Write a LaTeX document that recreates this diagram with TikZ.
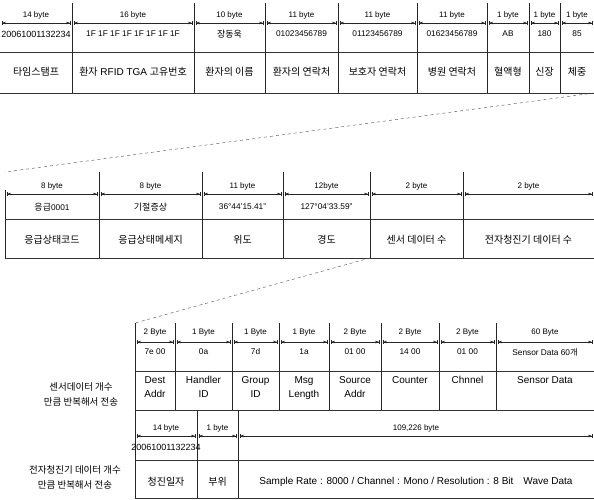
\documentclass[tikz,border=0pt]{standalone}
\usepackage{fontspec}
\setmainfont{Liberation Sans}
\newfontfamily\kr{Noto Sans CJK KR}
\newcommand\K[1]{{\kr #1}}
\newcommand\KD[1]{{\kr\fontsize{9}{10}\selectfont #1}}
\usetikzlibrary{arrows.meta}
\tikzset{
  hdr/.style={font=\fontsize{8}{9}\selectfont, inner sep=0pt},
  dat/.style={font=\fontsize{8.3}{9}\selectfont, inner sep=0pt},
  lab/.style={font=\fontsize{10}{14}\selectfont, inner sep=0pt, align=center},
  side/.style={font=\fontsize{9.5}{15}\selectfont, inner sep=0pt, align=center},
  vline/.style={line width=0.6pt, black!85},
  hline/.style={line width=0.5pt, black!80},
  barr/.style={line width=0.45pt, black!85,
    {Bar[width=4pt]Latex[length=3.5pt,width=3pt]}-{Latex[length=3.5pt,width=3pt]Bar[width=4pt]}},
  zoomline/.style={dashed, line width=0.4pt, black!70}
}
\newcommand\labanc{center}
\newcommand\bcol[6]{%
  \node[hdr] (#1h) at ({(#2+#3)/2},\yH) {#4};
  \node[dat] (#1d) at ({(#2+#3)/2},\yD) {#5};
  \node[lab, anchor=\labanc] (#1l) at ({(#2+#3)/2},\yL) {#6};
  \coordinate (#1a) at (#2+1.5,\yA);
  \coordinate (#1b) at (#3-1.5,\yA);
  \draw[barr] (#1a) -- (#1b);
}
\begin{document}
\begin{tikzpicture}[x=1pt,y=-1pt]
\useasboundingbox (0,0) rectangle (594,499);
\fill[white] (0,0) rectangle (594,499);

% ---------- Section 1 ----------
\def\yH{15}\def\yA{23}\def\yD{34}\def\yL{72}
\foreach \x in {72,194,265,338,417,487,529,560} \draw[vline] (\x,3) -- (\x,93);
\draw[hline] (0,52) -- (594,52);
\draw[hline] (0,93) -- (594,93);
\bcol{a1}{0}{72}{14 byte}{\fontsize{9}{10}\selectfont 20061001132234}{\K{타임스탬프}}
\bcol{a2}{72}{194}{16 byte}{1F 1F 1F 1F 1F 1F 1F 1F}{\K{환자} RFID TGA \K{고유번호}}
\bcol{a3}{194}{265}{10 byte}{\KD{장동욱}}{\K{환자의 이름}}
\bcol{a4}{265}{338}{11 byte}{01023456789}{\K{환자의 연락처}}
\bcol{a5}{338}{417}{11 byte}{01123456789}{\K{보호자 연락처}}
\bcol{a6}{417}{487}{11 byte}{01623456789}{\K{병원 연락처}}
\bcol{a7}{487}{529}{1 byte}{AB}{\K{혈액형}}
\bcol{a8}{529}{560}{1 byte}{180}{\K{신장}}
\bcol{a9}{560}{594}{1 byte}{85}{\K{체중}}

% zoom line 1
\coordinate (z1a) at (594,93);
\coordinate (z1b) at (5,172);
\draw[zoomline] (z1a) -- (z1b);

% ---------- Section 2 ----------
\def\yH{186}\def\yA{194}\def\yD{207}\def\yL{240}
\foreach \x in {99,202,283,370,463} \draw[vline] (\x,172) -- (\x,258);
\draw[vline] (5,190) -- (5,258);
\draw[hline] (5,219) -- (594,219);
\draw[hline] (5,258) -- (594,258);
\bcol{b1}{5}{99}{8 byte}{\KD{응급}0001}{\K{응급상태코드}}
\bcol{b2}{99}{202}{8 byte}{\KD{기절증상}}{\K{응급상태메세지}}
\bcol{b3}{202}{283}{11 byte}{36°44'15.41"}{\K{위도}}
\bcol{b4}{283}{370}{12byte}{127°04'33.59"}{\K{경도}}
\bcol{b5}{370}{463}{2 byte}{}{\K{센서 데이터 수}}
\bcol{b6}{463}{594}{2 byte}{}{\K{전자청진기 데이터 수}}

% zoom line 2
\coordinate (z2a) at (370,258);
\coordinate (z2b) at (135,323);
\draw[zoomline] (z2a) -- (z2b);

% ---------- Section 3 (upper) ----------
\def\yH{333}\def\yA{342}\def\yD{352}\def\yL{376}
\renewcommand\labanc{north}
\foreach \x in {175,232,279,329,381,439,496} \draw[vline] (\x,323) -- (\x,410);
\draw[vline] (135,323) -- (135,499);
\draw[hline] (135,371) -- (594,371);
\draw[hline] (135,410) -- (594,410);
\bcol{c1}{135}{175}{2 Byte}{7e 00}{Dest\\Addr}
\bcol{c2}{175}{232}{1 Byte}{0a}{Handler\\ID}
\bcol{c3}{232}{279}{1 Byte}{7d}{Group\\ID}
\bcol{c4}{279}{329}{1 Byte}{1a}{Msg\\Length}
\bcol{c5}{329}{381}{2 Byte}{01 00}{Source\\Addr}
\bcol{c6}{381}{439}{2 Byte}{14 00}{Counter}
\bcol{c7}{439}{496}{2 Byte}{01 00}{Chnnel}
\bcol{c8}{496}{594}{60 Byte}{Sensor Data 60\K{개}}{Sensor Data}

% ---------- Section 3 (lower) ----------
\def\yH{428}\def\yA{436}\def\yD{447}\def\yL{482}
\renewcommand\labanc{center}
\foreach \x in {197,238} \draw[vline] (\x,410) -- (\x,499);
\draw[hline] (135,460) -- (594,460);
\draw[hline] (135,498) -- (594,498);
\bcol{d1}{135}{197}{14 byte}{\fontsize{9}{10}\selectfont 20061001132234}{\K{청진일자}}
\bcol{d2}{197}{238}{1 byte}{}{\K{부위}}
\bcol{d3}{238}{594}{109,226 byte}{}{Sample Rate : 8000 / Channel : Mono / Resolution : 8 Bit\hspace{1em}Wave Data}

% side labels
\node[side] (s1) at (81,394) {\K{센서데이터 개수}\\\K{만큼 반복해서 전송}};
\node[side] (s2) at (75,477) {\K{전자청진기 데이터 개수}\\\K{만큼 반복해서 전송}};
\end{tikzpicture}
\end{document}
